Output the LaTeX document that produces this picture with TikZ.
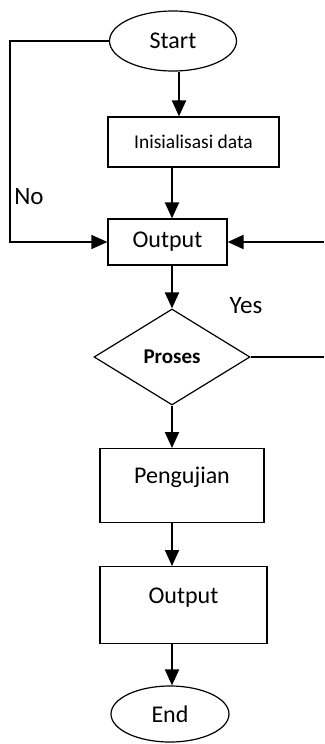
\documentclass[tikz,border=0pt]{standalone}
\usepackage{fontspec}
\setmainfont{Carlito}
\usetikzlibrary{arrows.meta,shapes.geometric}

\begin{document}
\begin{tikzpicture}[x=1pt,y=-1pt,
  box/.style={draw,line width=1.2pt,inner sep=0pt,font=\fontsize{24}{28}\selectfont},
  term/.style={ellipse,draw,line width=1.2pt,inner sep=0pt,font=\fontsize{24}{28}\selectfont},
  arr/.style={-{Triangle[length=16pt,width=14pt]},line width=2pt},
  lbl/.style={font=\fontsize{25}{29}\selectfont}]
\useasboundingbox (0,0) rectangle (324,744);
% Terminals and steps
\node[term,minimum width=127pt,minimum height=60pt] (start) at (173,41) {Start};
\node[box,minimum width=171pt,minimum height=50pt,font=\fontsize{19.5}{23}\selectfont] (init) at (193.5,142) {Inisialisasi data};
\node[box,minimum width=119pt,minimum height=46pt] (out1) at (167.5,242) {Output};
\node[diamond,draw,line width=1.2pt,aspect=1.625,minimum width=156pt,minimum height=96pt,inner sep=0pt,font=\bfseries\fontsize{21}{25}\selectfont] (dec) at (172,357) {Proses};
\node[box,minimum width=164pt,text height=35pt,text depth=39pt,anchor=north] (peng) at (182,448) {Pengujian};
\node[box,minimum width=167pt,text height=37pt,text depth=40pt,anchor=north] (out2) at (183.5,566) {Output};
\node[term,minimum width=118pt,minimum height=56pt] (end) at (170,714) {End};
% Labels
\node[lbl] (no) at (29,197) {No};
\node[lbl] (yes) at (246,306) {Yes};
% Flow
\draw[arr] ([xshift=6pt]start.south) -- ([xshift=6pt]start.south |- init.north);
\draw[arr] (init.south -| dec.north) -- (out1.north -| dec.north);
\draw[arr] (out1.south -| dec.north) -- (dec.north);
\draw[arr] (dec.south) -- (peng.north -| dec.south);
\draw[arr] (peng.south -| dec.south) -- (out2.north -| dec.south);
\draw[arr] (out2.south -| dec.south) -- (end.north -| dec.south);
% Loops
\coordinate (lft) at (10,41);
\coordinate (rgt) at (324,242);
\coordinate (rgtb) at (324,357);
\draw[line width=1.5pt,-{Triangle[length=16pt,width=14pt]}] (start.west) -- (lft) |- (out1.west);
\draw[arr] (rgt) -- (out1.east);
\draw[line width=1.5pt] (dec.east) -- (rgtb);
\end{tikzpicture}
\end{document}
